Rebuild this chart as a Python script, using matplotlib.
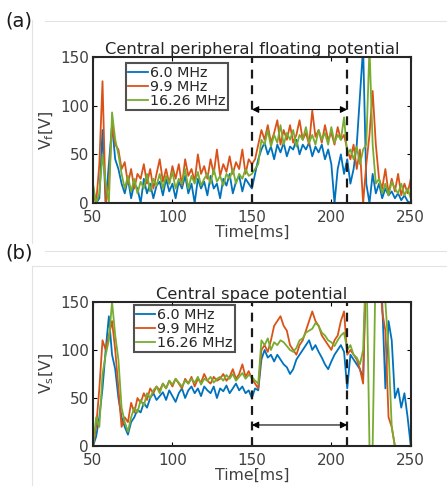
#Grafica de potenciales (a) flotante periferico y (b) espacial central

import numpy as np
import matplotlib.pyplot as plt
from matplotlib.lines import Line2D

#Datos, cada 2 ms entre 50 y 250 ms
tiempo = np.arange(50, 251, 2)

vf_6 = [15, 0, 5, 75, 0, 40, 80, 45, 35, 20,
        10, 25, 5, 20, 15, 0, 25, 10, 20, 5,
        18, 22, 8, 25, 12, 20, 5, 22, 15, 28,
        10, 20, 0, 25, 15, 22, 8, 28, 15, 20,
        5, 25, 18, 30, 10, 22, 28, 12, 25, 20,
        15, 30, 45, 55, 62, 50, 58, 45, 60, 52,
        62, 48, 58, 55, 65, 50, 60, 55, 62, 48,
        58, 52, 60, 45, 55, 40, 0, 35, 50, 30,
        45, 20, 35, 60, 110, 160, 20, 0, 30, 10,
        20, 5, 15, 8, 12, 5, 10, 3, 8, 2, 0]
vf_9 = [10, 0, 40, 125, 0, 20, 80, 60, 55, 35,
        42, 20, 35, 15, 30, 25, 40, 20, 35, 15,
        30, 45, 22, 35, 20, 38, 25, 40, 18, 45,
        28, 35, 22, 50, 30, 38, 25, 45, 30, 55,
        28, 40, 32, 48, 30, 42, 35, 55, 30, 45,
        40, 45, 60, 75, 65, 80, 62, 72, 85, 60,
        75, 65, 80, 62, 70, 85, 65, 72, 60, 95,
        68, 75, 62, 80, 65, 72, 60, 78, 65, 70,
        55, 45, 60, 35, 55, 0, 40, 70, 115, 60,
        25, 15, 35, 10, 25, 12, 30, 8, 20, 10, 25]
vf_16 = [20, 0, 10, 50, 20, 0, 93, 65, 50, 30,
         15, 28, 12, 25, 10, 22, 15, 30, 12, 25,
         18, 30, 15, 28, 20, 32, 15, 25, 20, 35,
         15, 28, 20, 32, 18, 25, 30, 20, 35, 22,
         28, 18, 30, 25, 35, 20, 30, 25, 35, 28,
         30, 35, 40, 65, 60, 75, 58, 70, 62, 80,
         60, 72, 65, 75, 58, 70, 65, 78, 62, 70,
         60, 75, 65, 72, 60, 78, 62, 70, 65, 88,
         50, 55, 45, 58, 40, 55, 60, 160, 60, 20,
         25, 10, 20, 8, 22, 15, 10, 20, 8, 15, 5]

vs_6 = [0, 10, 30, 60, 100, 135, 95, 80, 50, 30,
        20, 12, 25, 30, 38, 35, 45, 40, 50, 55,
        48, 52, 56, 48, 58, 52, 46, 55, 60, 50,
        58, 62, 55, 60, 52, 62, 58, 55, 62, 50,
        60, 57, 63, 55, 60, 65, 58, 62, 55, 58,
        50, 60, 58, 90, 100, 92, 95, 88, 95, 90,
        85, 82, 75, 80, 90, 95, 100, 105, 110, 100,
        105, 98, 92, 85, 80, 88, 95, 100, 105, 98,
        60, 95, 90, 85, 80, 70, 200, 200, 200, 200,
        200, 150, 60, 130, 110, 50, 60, 40, 55, 30, 0]
vs_9 = [0, 20, 60, 110, 100, 115, 130, 100, 60, 20,
        30, 25, 45, 35, 50, 45, 55, 48, 60, 55,
        62, 58, 65, 60, 68, 62, 70, 65, 60, 70,
        65, 72, 62, 70, 66, 75, 68, 65, 72, 68,
        70, 75, 68, 72, 80, 70, 75, 85, 72, 78,
        70, 65, 60, 100, 105, 98, 110, 125, 130, 135,
        125, 120, 105, 100, 95, 105, 110, 120, 130, 140,
        130, 125, 115, 110, 105, 100, 110, 115, 130, 140,
        95, 100, 95, 90, 80, 65, 200, 200, 200, 200,
        200, 140, 120, 30, 20, 0, 0, 0, 0, 0, 0]
vs_16 = [0, 30, 20, 75, 95, 110, 150, 115, 90, 40,
         25, 15, 30, 40, 35, 48, 42, 55, 50, 58,
         62, 55, 65, 60, 68, 64, 70, 66, 62, 68,
         65, 70, 66, 72, 64, 70, 68, 72, 66, 70,
         72, 68, 74, 70, 75, 68, 72, 76, 70, 74,
         72, 68, 65, 110, 105, 112, 100, 108, 105, 110,
         108, 104, 100, 98, 102, 110, 112, 118, 120, 122,
         128, 125, 118, 115, 110, 108, 104, 110, 115, 118,
         100, 105, 95, 92, 85, 100, 200, 0, 0, 200,
         200, 200, 150, 100, 20, 0, 0, 0, 0, 0, 0]

etiquetas = ["6.0 MHz", "9.9 MHz", "16.26 MHz"]
colores = ["#0072BD", "#D95319", "#77AC30"]

plt.rcParams["font.family"] = "DejaVu Sans"
fig = plt.figure(figsize=(4.47, 4.86), dpi=100)

#Lineas grises del borde de la imagen original
gris = "#e3e3e3"
fig.add_artist(Line2D([32/447, 32/447], [1-20/486, 1-243/486], color=gris, lw=0.8))
fig.add_artist(Line2D([45/447, 1], [1-21/486, 1-21/486], color=gris, lw=0.8))
fig.add_artist(Line2D([45/447, 1], [1-251/486, 1-251/486], color=gris, lw=0.8))
fig.add_artist(Line2D([32/447, 32/447], [1-266/486, 0], color=gris, lw=0.8))
fig.add_artist(Line2D([32/447, 1], [1-266/486, 1-266/486], color=gris, lw=0.8))

paneles = [
    ([0.208, 0.582, 0.711, 0.301], [vf_6, vf_9, vf_16], "Central peripheral floating potential",
     r"V$_\mathregular{f}$[V]", 96, (0.105, 0.955)),
    ([0.208, 0.082, 0.711, 0.297], [vs_6, vs_9, vs_16], "Central space potential",
     r"V$_\mathregular{s}$[V]", 22, (0.128, 0.975)),
]

for caja, series, titulo, ylab, yflecha, posleg in paneles:
    ax = fig.add_axes(caja)
    for datos, lab, c in zip(series, etiquetas, colores):
        ax.plot(tiempo, datos, color=c, lw=1.3, label=lab)
    ax.set_xlim(50, 250)
    ax.set_ylim(0, 150)
    ax.set_xticks([50, 100, 150, 200, 250])
    ax.set_yticks([0, 50, 100, 150])
    ax.axvline(150, color="#1a1a1a", lw=1.6, ls=(0, (4, 3)))
    ax.axvline(210, color="#1a1a1a", lw=1.6, ls=(0, (4, 3)))
    ax.annotate("", xy=(150, yflecha), xytext=(210, yflecha),
                arrowprops=dict(arrowstyle="<|-|>", color="black", lw=0.8,
                                mutation_scale=10, shrinkA=0, shrinkB=0))
    ax.set_title(titulo, fontsize=11.8, color="#262626", pad=2)
    ax.set_xlabel("Time[ms]", fontsize=11.3, color="#404040", labelpad=0)
    ax.set_ylabel(ylab, fontsize=11.3, color="#404040", labelpad=3)
    ax.tick_params(direction="in", length=3, width=0.8, top=True, right=True,
                   labelsize=11, labelcolor="#404040", pad=3)
    ax.tick_params(axis="x", pad=5)
    for s in ax.spines.values():
        s.set_linewidth(1.5)
        s.set_color("#262626")
    leg = ax.legend(loc="upper left", bbox_to_anchor=posleg, fontsize=10.3,
                    frameon=True, fancybox=False, handlelength=1.35,
                    handletextpad=0.15, borderpad=0.15, labelspacing=0.0,
                    borderaxespad=0)
    leg.get_frame().set_edgecolor("#262626")
    leg.get_frame().set_linewidth(1.5)
    for texto in leg.get_texts():
        texto.set_color("#262626")

fig.text(5/447, 1-21/486, "(a)", fontsize=14, va="center", ha="left", color="#1a1a1a")
fig.text(5/447, 1-253/486, "(b)", fontsize=14, va="center", ha="left", color="#1a1a1a")

plt.savefig("out.png", dpi=100)
